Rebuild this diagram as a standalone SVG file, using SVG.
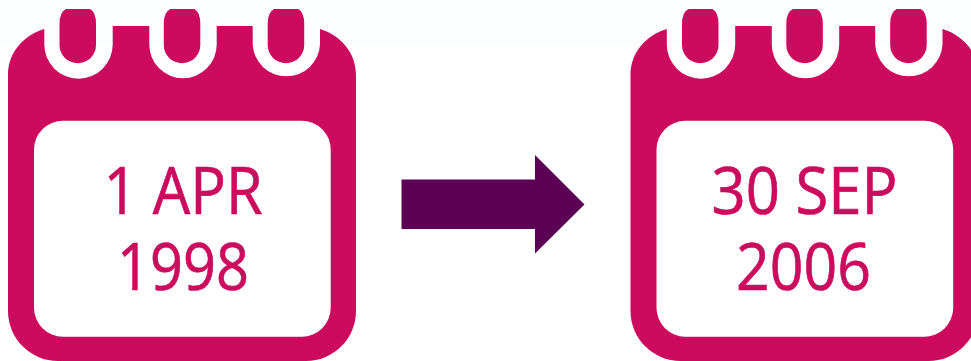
<svg xmlns="http://www.w3.org/2000/svg" width="971" height="361" viewBox="0 0 971 361">
<style>
.body{fill:#cc0a5e}
.win{fill:#fff}
.t{font-family:"Open Sans","Noto Sans",sans-serif;font-size:65px;fill:#cc0a5e;stroke:#cc0a5e;stroke-width:.7px;text-anchor:middle}
</style>
<defs>
<g id="cal">
<path class="body" d="M8 75C8 52 24 35 44.3 29V44.5A34.2 34.2 0 0 0 112.7 44.5V26H149.3V44.5A33.7 33.7 0 0 0 216.7 44.5V26H252.7V44.5A33.7 33.7 0 0 0 320 44.5V29C340 35 356 52 356 75V311A50 50 0 0 1 306 361H58A50 50 0 0 1 8 311Z"/>
<path id="tab" class="body" d="M66 9H90Q96 12 96 24V45A18.2 18.2 0 0 1 59.5 45V24Q59.5 12 66 9Z"/>
<use href="#tab" x="104.3"/>
<use href="#tab" x="208.2"/>
<rect class="win" x="34" y="120.7" width="296.7" height="216" rx="29" ry="29"/>
</g>
</defs>
<rect width="971" height="361" fill="#fff"/>
<rect width="971" height="45" fill="#fbfdfe"/>
<g id="calendar-start">
<use href="#cal"/>
<text class="t" x="183" y="213.5" textLength="159" lengthAdjust="spacingAndGlyphs">1 APR</text>
<text class="t" x="183" y="290" textLength="132" lengthAdjust="spacingAndGlyphs">1998</text>
</g>
<g id="calendar-end">
<use href="#cal" x="622.5"/>
<text class="t" x="804.5" y="213.5" textLength="186" lengthAdjust="spacingAndGlyphs">30 SEP</text>
<text class="t" x="803.5" y="290" textLength="135" lengthAdjust="spacingAndGlyphs">2006</text>
</g>
<g id="connectors">
<path fill="#5c0055" d="M401.5 179.5H535V155L584.5 204.5L535 253.5V229H401.5Z"/>
</g>
</svg>
